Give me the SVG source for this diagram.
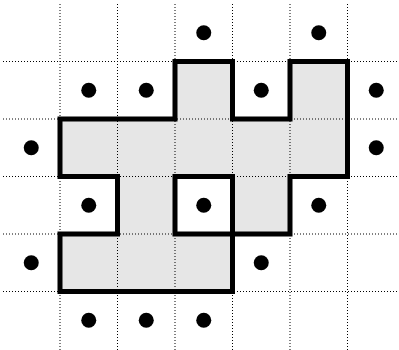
<svg xmlns="http://www.w3.org/2000/svg" width="399" height="350" viewBox="0 0 399 350">
<style>
.grid{stroke:#000;stroke-width:1;stroke-dasharray:1 2;fill:none}
.shape{fill:#e6e6e6;stroke:none}
.outline{fill:none;stroke:#000;stroke-width:5;stroke-linejoin:miter;stroke-linecap:square}
.hole{fill:#fff;stroke:#000;stroke-width:5}
.dot{fill:#000}
</style>
<rect width="399" height="350" fill="#fff"/>
<g id="fill">
<path class="shape" d="M60,119 H175 V61.5 H232.5 V119 H290 V61.5 H347.5 V176.5 H290 V234 H232.5 V291.5 H60 V234 H117.5 V176.5 H60 Z"/>
</g>
<g id="grid" class="grid">
<path d="M60,4 V350 M117.5,4 V350 M175,4 V350 M232.5,4 V350 M290,4 V350 M347.5,4 V350"/>
<path d="M3,61.5 H399 M3,119 H399 M3,176.5 H399 M3,234 H399 M3,291.5 H399"/>
</g>
<g id="outline">
<path class="outline" d="M60,119 H175 V61.5 H232.5 V119 H290 V61.5 H347.5 V176.5 H290 V234 H232.5 V291.5 H60 V234 H117.5 V176.5 H60 Z"/>
<rect class="hole" x="175" y="176.5" width="57.5" height="57.5"/>
</g>
<g id="dots" class="dot">
<circle cx="203.75" cy="32.75" r="7.5"/>
<circle cx="318.75" cy="32.75" r="7.5"/>
<circle cx="88.75" cy="90.25" r="7.5"/>
<circle cx="146.25" cy="90.25" r="7.5"/>
<circle cx="261.25" cy="90.25" r="7.5"/>
<circle cx="376.25" cy="90.25" r="7.5"/>
<circle cx="31.25" cy="147.75" r="7.5"/>
<circle cx="376.25" cy="147.75" r="7.5"/>
<circle cx="88.75" cy="205.25" r="7.5"/>
<circle cx="203.75" cy="205.25" r="7.5"/>
<circle cx="318.75" cy="205.25" r="7.5"/>
<circle cx="31.25" cy="262.75" r="7.5"/>
<circle cx="261.25" cy="262.75" r="7.5"/>
<circle cx="88.75" cy="320.25" r="7.5"/>
<circle cx="146.25" cy="320.25" r="7.5"/>
<circle cx="203.75" cy="320.25" r="7.5"/>
</g>
</svg>
